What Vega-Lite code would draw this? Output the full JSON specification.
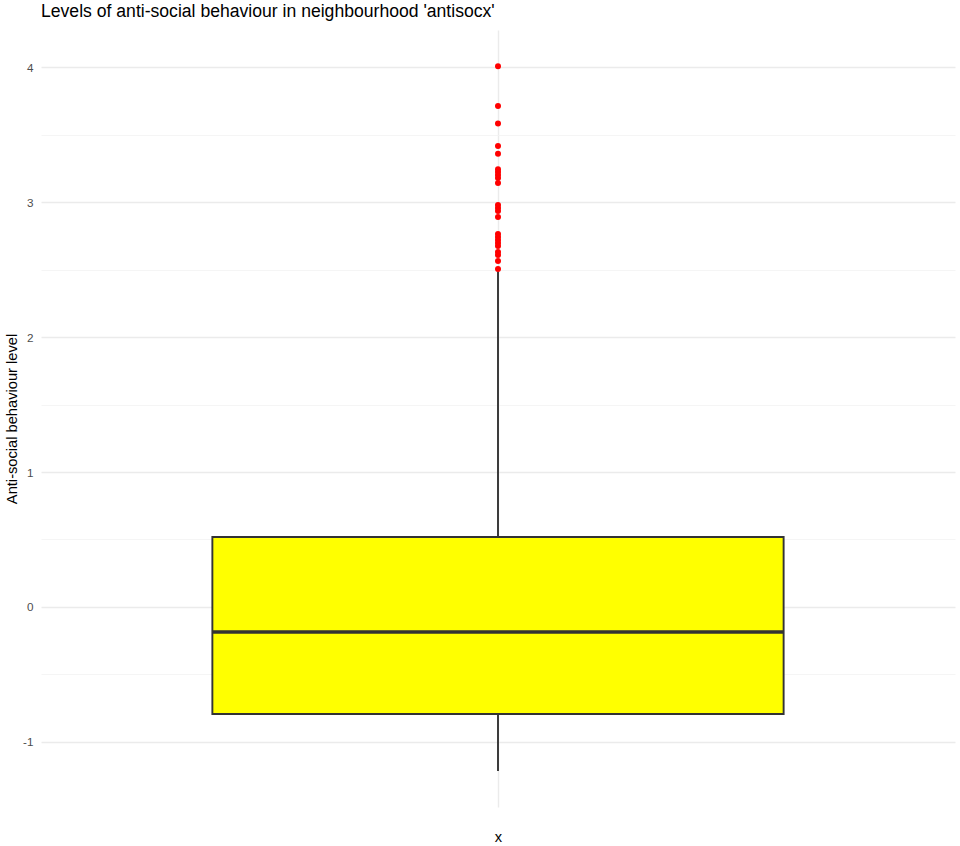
{
  "$schema": "https://vega.github.io/schema/vega-lite/v6.json",
  "autosize": "none",
  "width": 914,
  "height": 777,
  "padding": {"left": 41, "top": 30, "right": 5, "bottom": 39},
  "background": "white",
  "config": {
    "font": "Liberation Sans",
    "view": {"stroke": null}
  },
  "title": {
    "text": "Levels of anti-social behaviour in neighbourhood 'antisocx'",
    "anchor": "start",
    "frame": "group",
    "fontSize": 17.6,
    "fontWeight": "normal",
    "color": "black",
    "offset": 9
  },
  "datasets": {
    "summary": [
      {"group": "x", "lower": -1.215, "q1": -0.793, "median": -0.185, "q3": 0.519, "upper": 2.485}
    ],
    "outliers": [
      {"group": "x", "value": 4.007},
      {"group": "x", "value": 3.711},
      {"group": "x", "value": 3.583},
      {"group": "x", "value": 3.415},
      {"group": "x", "value": 3.358},
      {"group": "x", "value": 3.244},
      {"group": "x", "value": 3.222},
      {"group": "x", "value": 3.2},
      {"group": "x", "value": 3.178},
      {"group": "x", "value": 3.141},
      {"group": "x", "value": 2.978},
      {"group": "x", "value": 2.956},
      {"group": "x", "value": 2.933},
      {"group": "x", "value": 2.889},
      {"group": "x", "value": 2.763},
      {"group": "x", "value": 2.741},
      {"group": "x", "value": 2.719},
      {"group": "x", "value": 2.696},
      {"group": "x", "value": 2.674},
      {"group": "x", "value": 2.63},
      {"group": "x", "value": 2.607},
      {"group": "x", "value": 2.563},
      {"group": "x", "value": 2.504}
    ]
  },
  "encoding": {
    "x": {
      "field": "group",
      "type": "nominal",
      "scale": {"type": "band", "paddingInner": 0, "paddingOuter": 0.3},
      "axis": {
        "title": "x",
        "titleFontSize": 14.67,
        "titleFontWeight": "normal",
        "titleColor": "black",
        "titlePadding": 22,
        "labels": false,
        "ticks": false,
        "domain": false,
        "grid": true,
        "bandPosition": 0.5,
        "gridColor": "#EBEBEB",
        "gridWidth": 1.4
      }
    }
  },
  "layer": [
    {
      "data": {"name": "summary"},
      "mark": {"type": "rule", "color": "#333333", "strokeWidth": 1.9},
      "encoding": {
        "y": {
          "field": "lower",
          "type": "quantitative",
          "scale": {"domain": [-1.482, 4.275], "nice": false, "zero": false},
          "axis": {
            "title": "Anti-social behaviour level",
            "titleFontSize": 14.67,
            "titleFontWeight": "normal",
            "titleColor": "black",
            "titleAngle": 270,
            "titleBaseline": "alphabetic",
            "titleAlign": "center",
            "titleAnchor": "middle",
            "titleX": -25,
            "titleY": 388.5,
            "values": [-1.5, -1, -0.5, 0, 0.5, 1, 1.5, 2, 2.5, 3, 3.5, 4],
            "labelExpr": "datum.value % 1 === 0 ? '' + datum.value : ''",
            "labelFontSize": 11.7,
            "labelColor": "#4D4D4D",
            "labelPadding": 8,
            "ticks": false,
            "domain": false,
            "grid": true,
            "gridColor": {"condition": {"test": "datum.value % 1 === 0", "value": "#EBEBEB"}, "value": "#F2F2F2"},
            "gridWidth": {"condition": {"test": "datum.value % 1 === 0", "value": 1.4}, "value": 0.8}
          }
        },
        "y2": {"field": "upper"}
      }
    },
    {
      "data": {"name": "summary"},
      "mark": {"type": "bar", "fill": "#FFFF00", "stroke": "#333333", "strokeWidth": 1.9},
      "encoding": {
        "y": {"field": "q1", "type": "quantitative"},
        "y2": {"field": "q3"}
      }
    },
    {
      "data": {"name": "summary"},
      "mark": {"type": "bar", "fill": null, "stroke": "#333333", "strokeWidth": 3.6},
      "encoding": {
        "y": {"field": "median", "type": "quantitative"},
        "y2": {"field": "median"}
      }
    },
    {
      "data": {"name": "outliers"},
      "mark": {"type": "circle", "color": "#FF0000", "opacity": 1, "size": 36},
      "encoding": {
        "y": {"field": "value", "type": "quantitative"}
      }
    }
  ]
}
